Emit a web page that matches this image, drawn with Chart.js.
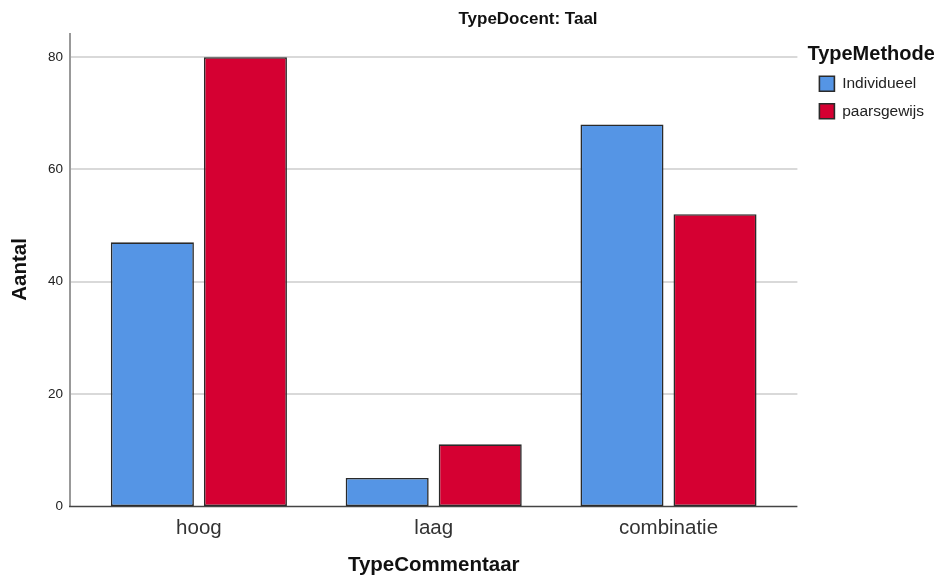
<!DOCTYPE html>
<html>
<head>
<meta charset="utf-8">
<script src="https://cdn.jsdelivr.net/npm/chart.js@4"></script>
<style>
  html, body { margin: 0; padding: 0; background: #fff; }
</style>
</head>
<body>
<canvas id="myChart" width="939" height="579"></canvas>
<script>
const categories = ["hoog", "laag", "combinatie"];
const seriesNames = ["Individueel", "paarsgewijs"];
const individueel = [47, 5, 68];
const paarsgewijs = [80, 11, 52];
const yTicks = [0, 20, 40, 60, 80];

const colors = ["#5595e5", "#d50032"];
const font = "Arial, 'Liberation Sans', sans-serif";

// axis lines + gridlines run a bit past the category area, like SPSS does
const frame = {
  id: "frame",
  beforeDatasetsDraw(chart) {
    const { ctx, chartArea, scales } = chart;
    const left = chartArea.left - 11.5;
    const right = chartArea.right + 11.5;
    ctx.save();
    ctx.lineWidth = 2;
    ctx.strokeStyle = "#d9d9d9";
    yTicks.forEach(v => {
      if (v === 0) return;
      const y = Math.round(scales.y.getPixelForValue(v));
      ctx.beginPath();
      ctx.moveTo(left, y);
      ctx.lineTo(right, y);
      ctx.stroke();
    });
    ctx.strokeStyle = "#999";
    ctx.beginPath();
    ctx.moveTo(left, chartArea.top);
    ctx.lineTo(left, chartArea.bottom);
    ctx.stroke();
    ctx.lineWidth = 1.5;
    ctx.strokeStyle = "#444";
    ctx.beginPath();
    ctx.moveTo(left - 1, chartArea.bottom + 0.5);
    ctx.lineTo(right, chartArea.bottom + 0.5);
    ctx.stroke();
    ctx.restore();
  },
  afterDraw(chart) {
    const { ctx } = chart;
    ctx.save();
    ctx.font = "bold 17px " + font;
    ctx.fillStyle = "#111";
    ctx.textAlign = "center";
    ctx.textBaseline = "middle";
    ctx.fillText("TypeDocent: Taal", 528, 19);
    ctx.restore();
  }
};

const ctx = document.getElementById("myChart");
new Chart(ctx, {
  type: "bar",
  data: {
    labels: categories,
    datasets: [
      {
        label: seriesNames[0],
        data: individueel,
        backgroundColor: colors[0],
        borderColor: "#2a2a2a",
        borderWidth: 1.6,
        borderSkipped: false,
      },
      {
        label: seriesNames[1],
        data: paarsgewijs,
        backgroundColor: colors[1],
        borderColor: "#2a2a2a",
        borderWidth: 1.6,
        borderSkipped: false,
      },
    ],
  },
  options: {
    responsive: false,
    animation: false,
    categoryPercentage: 0.7925,
    barPercentage: 0.8925,
    layout: {
      padding: { top: 33, left: 0, right: 5, bottom: 0 },
    },
    scales: {
      x: {
        grid: { display: false, drawTicks: false },
        border: { display: false },
        ticks: {
          color: "#333",
          font: { family: font, size: 20.5 },
          padding: 10,
        },
        title: {
          display: true,
          text: "TypeCommentaar",
          color: "#111",
          font: { family: font, size: 20.5, weight: "bold" },
          padding: { top: 14, bottom: 1 },
        },
        afterFit: (scale) => {
          scale.height = 73;
        },
      },
      y: {
        min: 0,
        max: 84.3,
        afterBuildTicks: (axis) => {
          axis.ticks = yTicks.map(v => ({ value: v }));
        },
        grid: { display: false, drawTicks: false },
        border: { display: false },
        ticks: {
          color: "#222",
          font: { family: font, size: 13.5 },
          padding: 18.5,
        },
        title: {
          display: true,
          text: "Aantal",
          color: "#111",
          font: { family: font, size: 20.5, weight: "bold" },
          padding: { top: 8, bottom: 4 },
        },
        afterFit: (scale) => {
          scale.width = 81.5;
        },
      },
      // empty strip between the plot and the legend
      yGap: {
        type: "linear",
        position: "right",
        grid: { display: false, drawTicks: false },
        border: { display: false },
        ticks: { display: false },
        afterFit: (scale) => {
          scale.width = 21.5;
        },
      },
    },
    plugins: {
      title: { display: false },
      tooltip: { enabled: false },
      legend: {
        position: "right",
        align: "start",
        title: {
          display: true,
          position: "start",
          text: "TypeMethode",
          color: "#111",
          font: { family: font, size: 20, weight: "bold", lineHeight: 1 },
          padding: { top: 11, bottom: 0 },
        },
        labels: {
          boxWidth: 15,
          boxHeight: 15,
          padding: 12,
          color: "#222",
          font: { family: font, size: 15.5, lineHeight: 1 },
        },
      },
    },
  },
  plugins: [frame],
});
</script>
</body>
</html>
